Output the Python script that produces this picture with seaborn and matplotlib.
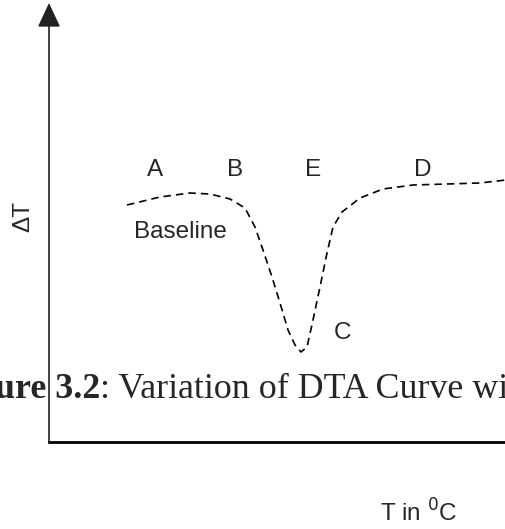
import matplotlib
matplotlib.use("Agg")
import matplotlib.pyplot as plt
import seaborn as sns
import pandas as pd

# DTA curve: temperature (x) against differential temperature (y), arbitrary units
temperature = [78, 111, 141, 161, 181, 196, 206, 214, 223, 231, 239, 246, 252,
               258, 264, 271, 278, 284, 293, 311, 334, 364, 398, 431, 457]
delta_t = [237, 245, 249, 248, 243, 234, 215, 192, 165, 139, 112, 97, 90,
           95, 122, 155, 189, 215, 230, 244, 253, 257, 258, 259, 262]

# Point labels on the curve (x, y in the same units)
point_names = ["A", "B", "E", "D", "C"]
point_x = [106, 186, 264, 374, 294]
point_y = [272, 272, 272, 272, 109]

W, H = 506, 529
sns.set_theme(style="white")
plt.rcParams["font.family"] = ["Liberation Sans", "DejaVu Sans"]

fig = plt.figure(figsize=(W / 100, H / 100), dpi=100)
# axes frame: origin at the corner of the two axis lines
left, bottom, top = 49, 442, 3
ax = fig.add_axes([left / W, (H - bottom) / H, (W - left) / W, (bottom - top) / H])
ax.set_xlim(0, W - left)
ax.set_ylim(0, bottom - top)
ax.patch.set_alpha(0)

df = pd.DataFrame({"T": temperature, "dT": delta_t})
sns.lineplot(data=df, x="T", y="dT", sort=False, ax=ax, color="black",
             linewidth=1.2, estimator=None)
ax.lines[0].set_dashes((4.5, 3))

for s in ["top", "right", "left"]:
    ax.spines[s].set_visible(False)
ax.spines["bottom"].set_color("black")
ax.spines["bottom"].set_linewidth(2.0)
ax.set_xticks([])
ax.set_yticks([])
ax.set_xlabel("")
ax.set_ylabel("")

# vertical axis with arrow head
ax.annotate("", xy=(0, 1), xytext=(0, 0), xycoords="axes fraction",
            textcoords="axes fraction",
            arrowprops=dict(arrowstyle="-|>,head_length=0.75,head_width=0.35",
                            color="#222222", lw=1.2, mutation_scale=20,
                            shrinkA=0, shrinkB=0),
            annotation_clip=False)

for name, x, y in zip(point_names, point_x, point_y):
    ax.text(x, y, name, ha="center", va="center", fontsize=17.5)
ax.text(131, 210, "Baseline", ha="center", va="center", fontsize=17.5)


def fpos(x, y):
    return x / W, 1 - y / H


fig.text(*fpos(23, 217), "ΔT", rotation=90, ha="center", va="center",
         fontsize=17.5)
fig.text(*fpos(419, 522), r"T in $^{0}$C", ha="center", va="baseline",
         fontsize=17.5)

serif = ["Liberation Serif", "DejaVu Serif"]
fig.text(*fpos(100, 398), "Figure 3.2", ha="right", va="baseline",
         fontsize=25.8, fontweight="bold", family=serif)
fig.text(*fpos(100, 398), ": Variation of DTA Curve with Temperature",
         ha="left", va="baseline", fontsize=25.8, family=serif)

fig.savefig("out.png", dpi=100)
